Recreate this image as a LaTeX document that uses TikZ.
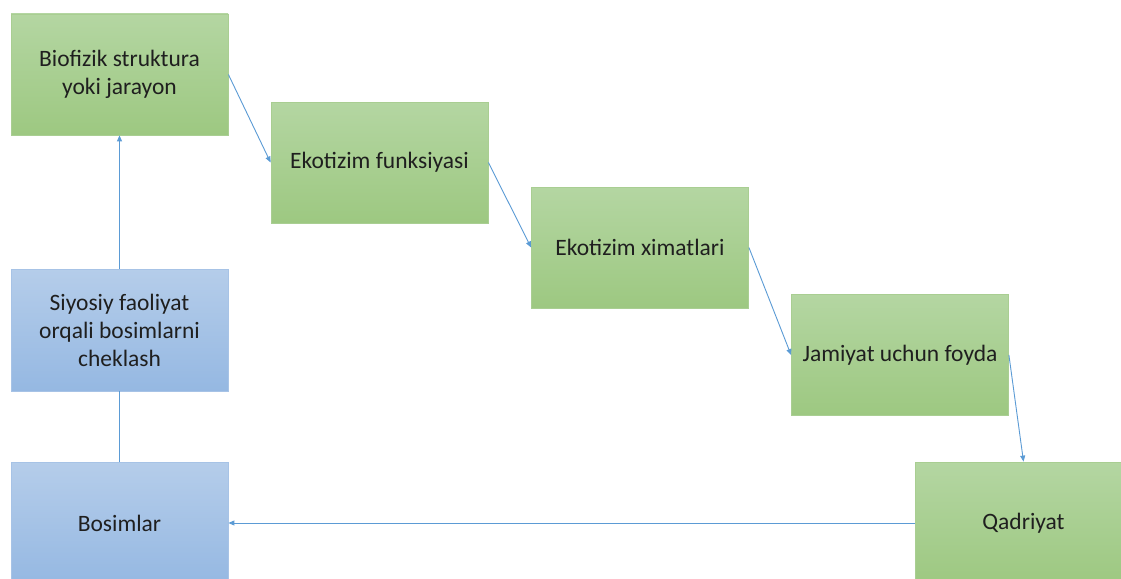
\documentclass[tikz,border=0pt]{standalone}
\usepackage{fontspec}
\setmainfont{Carlito}
\usetikzlibrary{arrows.meta}
\definecolor{gtop}{HTML}{B4D6A2}
\definecolor{gbot}{HTML}{9DC881}
\definecolor{gborder}{HTML}{A9CE92}
\definecolor{btop}{HTML}{B5CDEA}
\definecolor{bbot}{HTML}{95B8E2}
\definecolor{bborder}{HTML}{A7C3E6}
\definecolor{lnk}{HTML}{5B9BD5}
\tikzset{
  gbox/.style={rectangle, minimum width=217pt, minimum height=121pt, inner sep=0pt,
    top color=gtop, bottom color=gbot, draw=gborder, line width=0.8pt,
    align=center, font=\fontsize{23.5}{28}\selectfont, text=black!88},
  bbox/.style={gbox, top color=btop, bottom color=bbot, draw=bborder},
  conn/.style={draw=lnk, line width=0.9pt},
  arr/.style={conn, -{Triangle[length=6pt,width=5pt]}}
}
\begin{document}
\begin{tikzpicture}[x=1pt,y=-1pt]
\useasboundingbox (0,0) rectangle (1121,578);
\clip (0,0) rectangle (1121,578);
\fill[white] (0,0) rectangle (1121,578);
\node[gbox] (b1) at (119.5,74.5) {Biofizik struktura\\yoki jarayon};
\node[gbox] (b2) at (379.5,162.5) {Ekotizim funksiyasi};
\node[gbox] (b3) at (640,247.5) {Ekotizim ximatlari};
\node[gbox] (b4) at (900,355) {Jamiyat uchun foyda};
\node[gbox, minimum height=122pt] (q) at (1023.5,523) {Qadriyat};
\node[bbox, minimum height=122pt] (s) at (119.5,330) {Siyosiy faoliyat\\orqali bosimlarni\\cheklash};
\node[bbox, minimum height=122pt] (bo) at (119.5,523) {Bosimlar};
\draw[arr] (b1.east) -- (b2.west);
\draw[arr] (b2.east) -- (b3.west);
\draw[arr] (b3.east) -- (b4.west);
\draw[arr] (b4.east) -- (q.north);
\draw[arr] (q.west) -- (bo.east);
\draw[conn] (bo.north) -- (s.south);
\draw[arr] (s.north) -- (b1.south);
\end{tikzpicture}
\end{document}
